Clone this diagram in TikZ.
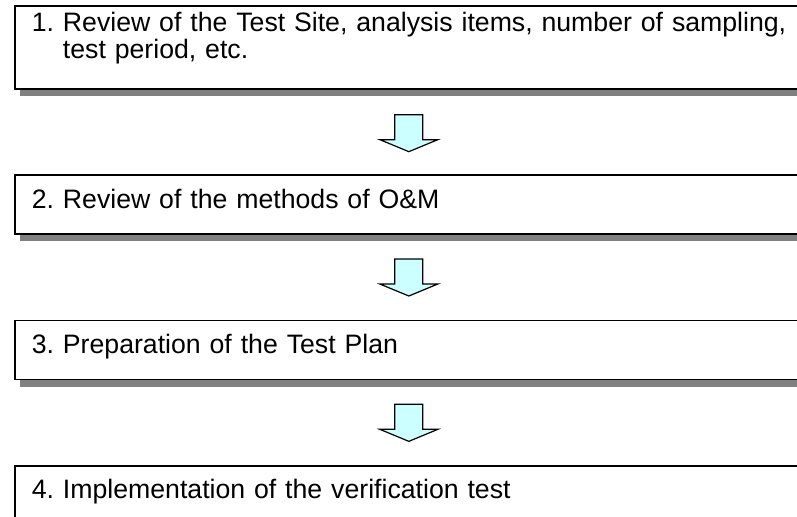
\documentclass[tikz,border=0pt]{standalone}
\usepackage{fontspec}
\setmainfont{Liberation Sans}
\usetikzlibrary{positioning,shadows,calc}
\definecolor{arrowfill}{HTML}{CCFFFF}
\definecolor{shade}{HTML}{808080}
\frenchspacing

\begin{document}
\begin{tikzpicture}[
    x=0.75pt,y=-0.75pt,
    node distance=63.5pt,
    stepbox/.style={draw,line width=1.25pt,fill=white,minimum width=612pt,inner xsep=12.75pt,inner ysep=0pt,
      text width=586.5pt,align=left,text height=24.75pt,text depth=19.5pt,
      font=\fontsize{20}{18}\selectfont,
      drop shadow={shadow xshift=3.75pt,shadow yshift=-5.25pt,fill=shade,opacity=1}},
    blockarr/.pic={\draw[line width=0.9pt,fill=arrowfill] (-14,0) -- (14,0) -- (14,25) -- (29,25) -- (0,37)
      -- (-29,25) -- (-14,25) -- cycle;}
  ]
    \useasboundingbox (0,0) rectangle (797,517);
    \node[stepbox,anchor=north west,text height=19.5pt,text depth=42.75pt] (s1) at (14,5)
      {1. Review of the Test Site, analysis items, number of sampling,\\
      \phantom{1. }test period, etc.};
    \node[stepbox,below=of s1] (s2) {2. Review of the methods of O\&M};
    \node[stepbox,below=of s2] (s3) {3. Preparation of the Test Plan};
    \node[stepbox,below=of s3] (s4) {4. Implementation of the verification test};
    % arrows between the steps
    \path ($(s1.south)+(-14,25)$) pic {blockarr};
    \path ($(s2.south)+(-14,24)$) pic {blockarr};
    \path ($(s3.south)+(-14,24)$) pic {blockarr};
  \end{tikzpicture}
\end{document}
